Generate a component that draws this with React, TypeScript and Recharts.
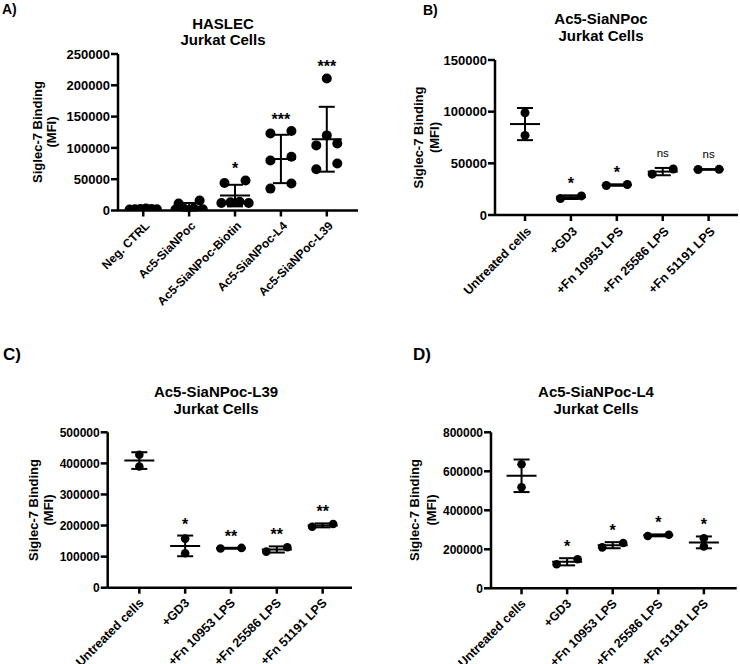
import React from "react";
import { ScatterChart, Scatter, XAxis, YAxis, ErrorBar } from "recharts";

const FONT = "'Liberation Sans', Arial, Helvetica, sans-serif";

// Panel A: HASLEC on Jurkat cells (six replicates per group)
const haslecGroups = ["Neg. CTRL", "Ac5-SiaNPoc", "Ac5-SiaNPoc-Biotin", "Ac5-SiaNPoc-L4", "Ac5-SiaNPoc-L39"];
const haslecValues = [
  [2500, 2000, 3000, 1500, 2000, 2500],
  [16000, 11000, 3000, 2500, 2000, 1500],
  [48000, 44000, 14000, 13000, 12000, 12000],
  [127000, 123000, 86000, 80000, 43000, 35000],
  [211000, 120000, 107000, 104000, 75000, 66000],
];
const haslecSig = ["", "", "*", "***", "***"];
const haslecTicks = [0, 50000, 100000, 150000, 200000, 250000];

// Panels B-D share the LPS treatment groups (duplicates)
const lpsGroups = ["Untreated cells", "+GD3", "+Fn 10953 LPS", "+Fn 25586 LPS", "+Fn 51191 LPS"];

const siaValues = [
  [99000, 77000],
  [18500, 16000],
  [29500, 28500],
  [44500, 39500],
  [44200, 44000],
];
const siaSig = ["", "*", "*", "ns", "ns"];
const siaTicks = [0, 50000, 100000, 150000];

const l39Values = [
  [428000, 390000],
  [158000, 111000],
  [128000, 126000],
  [130000, 116000],
  [205000, 196000],
];
const l39Sig = ["", "*", "**", "**", "**"];
const l39Ticks = [0, 100000, 200000, 300000, 400000, 500000];

const l4Values = [
  [636000, 518000],
  [149000, 123000],
  [232000, 210000],
  [275000, 268000],
  [257000, 214000],
];
const l4Sig = ["", "*", "*", "*", "*"];
const l4Ticks = [0, 200000, 400000, 600000, 800000];

const mean = (v: number[]) => v.reduce((a, b) => a + b, 0) / v.length;
const sd = (v: number[]) => {
  const m = mean(v);
  return Math.sqrt(v.reduce((a, b) => a + (b - m) * (b - m), 0) / (v.length - 1));
};

// spread points that sit at about the same height side by side
function swarm(values: number[], cat: number, tol: number, step: number) {
  const sorted = [...values].sort((a, b) => b - a);
  const rows: number[][] = [];
  for (const v of sorted) {
    const row = rows[rows.length - 1];
    if (row && row[0] - v <= tol) row.push(v);
    else rows.push([v]);
  }
  const pts: { x: number; y: number }[] = [];
  for (const row of rows) {
    const n = row.length;
    let slots: number[];
    if (n === 1) slots = [0];
    else if (n === 2) slots = [1, -1];
    else {
      const even = Array.from({ length: n }, (_, i) => -1.3 + (2.6 * i) / (n - 1));
      slots = even.sort((a, b) => Math.abs(a) - Math.abs(b) || b - a);
    }
    row.forEach((v, i) => pts.push({ x: cat + slots[i] * step, y: v }));
  }
  return pts;
}

type PanelProps = {
  left: number;
  top: number;
  width: number;
  height: number;
  plot: { x0: number; x1: number; y0: number; y1: number };
  domainX: [number, number];
  groups: string[];
  values: number[][];
  sig: string[];
  ticks: number[];
  r: number;
  tickFont: number;
  catFont: number;
  xh: number;
  labelShift: [number, number];
};

const CatTick = ({ x, y, payload, labels, fontSize, shift }: any) => {
  const ax = x + shift[0];
  const ay = y + shift[1];
  return (
    <text
      x={ax}
      y={ay}
      transform={`rotate(-45, ${ax}, ${ay})`}
      textAnchor="end"
      fontSize={fontSize}
      fontWeight="bold"
      fontFamily={FONT}
      fill="#000"
    >
      {labels[payload.value]}
    </text>
  );
};

function Panel(p: PanelProps) {
  const yMax = p.ticks[p.ticks.length - 1];
  const plotH = p.plot.y1 - p.plot.y0;
  const plotW = p.plot.x1 - p.plot.x0;
  const pxPerCat = plotW / (p.domainX[1] - p.domainX[0]);
  const tol = (7 / plotH) * yMax;
  const step = 10.5 / pxPerCat;

  const points = p.values.flatMap((v, i) => swarm(v, i, tol, step));
  const stats = p.values.map((v, i) => ({ x: i, y: mean(v), sd: sd(v) }));
  const marks = p.values
    .map((v, i) => ({ x: i, y: Math.max(Math.max(...v), stats[i].y + stats[i].sd), label: p.sig[i] }))
    .filter((d) => d.label);

  const yw = 60;
  const margin = {
    top: p.plot.y0 - p.top,
    left: p.plot.x0 - p.left - yw,
    right: p.left + p.width - p.plot.x1,
    bottom: p.top + p.height - p.plot.y1 - p.xh,
  };

  return (
    <div style={{ position: "absolute", left: p.left, top: p.top }}>
      <ScatterChart width={p.width} height={p.height} margin={margin}>
        <XAxis
          type="number"
          dataKey="x"
          domain={p.domainX}
          ticks={[0, 1, 2, 3, 4]}
          interval={0}
          allowDataOverflow
          height={p.xh}
          tickSize={6}
          axisLine={{ stroke: "#000", strokeWidth: 2.5 }}
          tickLine={{ stroke: "#000", strokeWidth: 2.5 }}
          tick={(t: any) => <CatTick {...t} labels={p.groups} fontSize={p.catFont} shift={p.labelShift} />}
        />
        <YAxis
          type="number"
          dataKey="y"
          domain={[0, yMax]}
          ticks={p.ticks}
          interval={0}
          allowDataOverflow
          width={yw}
          tickSize={7}
          tickMargin={1}
          axisLine={{ stroke: "#000", strokeWidth: 2.5 }}
          tickLine={{ stroke: "#000", strokeWidth: 2.5 }}
          tick={{ fill: "#000", fontSize: p.tickFont, fontWeight: "bold", fontFamily: FONT }}
        />
        <Scatter
          data={points}
          isAnimationActive={false}
          shape={(s: any) => <circle cx={s.cx} cy={s.cy} r={p.r} fill="#000" />}
        />
        <Scatter
          data={stats}
          isAnimationActive={false}
          shape={(s: any) => (
            <line x1={s.cx - 15} x2={s.cx + 15} y1={s.cy} y2={s.cy} stroke="#000" strokeWidth={2} />
          )}
        >
          <ErrorBar dataKey="sd" direction="y" width={8} stroke="#000" strokeWidth={2} />
        </Scatter>
        <Scatter
          data={marks}
          isAnimationActive={false}
          shape={(s: any) =>
            s.payload.label === "ns" ? (
              <text x={s.cx} y={s.cy - 11} textAnchor="middle" fontSize={11.5} fontFamily={FONT} fill="#000">
                {s.payload.label}
              </text>
            ) : (
              <text
                x={s.cx}
                y={s.cy - 6}
                textAnchor="middle"
                fontSize={16}
                fontWeight="bold"
                fontFamily={FONT}
                fill="#000"
              >
                {s.payload.label}
              </text>
            )
          }
        />
      </ScatterChart>
    </div>
  );
}

const titleStyle = { fontSize: 15, fontWeight: "bold", fontFamily: FONT, fill: "#000" } as const;
const axisTitleStyle = { fontSize: 13, fontWeight: "bold", fontFamily: FONT, fill: "#000" } as const;

function YTitle({ x1, x2, cy }: { x1: number; x2: number; cy: number }) {
  return (
    <g>
      <text x={x1} y={cy} transform={`rotate(-90, ${x1}, ${cy})`} textAnchor="middle" dominantBaseline="central" {...axisTitleStyle}>
        Siglec-7 Binding
      </text>
      <text x={x2} y={cy} transform={`rotate(-90, ${x2}, ${cy})`} textAnchor="middle" dominantBaseline="central" {...axisTitleStyle}>
        (MFI)
      </text>
    </g>
  );
}

export default function App() {
  return (
    <div style={{ position: "absolute", left: 0, top: 0, width: 740, height: 664, overflow: "hidden", background: "#fff" }}>
      <Panel
        left={0}
        top={0}
        width={370}
        height={330}
        plot={{ x0: 118, x1: 358, y0: 54, y1: 210.5 }}
        domainX={[-0.55, 4.68]}
        groups={haslecGroups}
        values={haslecValues}
        sig={haslecSig}
        ticks={haslecTicks}
        r={5}
        tickFont={13}
        catFont={12}
        xh={80}
        labelShift={[7, 8]}
      />
      <Panel
        left={370}
        top={0}
        width={370}
        height={330}
        plot={{ x0: 495, x1: 738, y0: 60, y1: 215 }}
        domainX={[-0.654, 4.64]}
        groups={lpsGroups}
        values={siaValues}
        sig={siaSig}
        ticks={siaTicks}
        r={4.5}
        tickFont={13}
        catFont={12.5}
        xh={80}
        labelShift={[7, 9]}
      />
      <Panel
        left={0}
        top={332}
        width={370}
        height={332}
        plot={{ x0: 107.7, x1: 352, y0: 432.3, y1: 587.7 }}
        domainX={[-0.69, 4.64]}
        groups={lpsGroups}
        values={l39Values}
        sig={l39Sig}
        ticks={l39Ticks}
        r={4.3}
        tickFont={12}
        catFont={12.5}
        xh={70}
        labelShift={[5, 8]}
      />
      <Panel
        left={370}
        top={332}
        width={370}
        height={332}
        plot={{ x0: 491, x1: 736.7, y0: 432.3, y1: 588.3 }}
        domainX={[-0.67, 4.72]}
        groups={lpsGroups}
        values={l4Values}
        sig={l4Sig}
        ticks={l4Ticks}
        r={4.3}
        tickFont={12}
        catFont={12.5}
        xh={70}
        labelShift={[5, 8]}
      />
      <svg width={740} height={664} style={{ position: "absolute", left: 0, top: 0, pointerEvents: "none" }}>
        <text x={2} y={13.5} fontSize={14} fontWeight="bold" fontFamily={FONT}>A)</text>
        <text x={423} y={15} fontSize={14} fontWeight="bold" fontFamily={FONT}>B)</text>
        <text x={3} y={359.5} fontSize={17} fontWeight="bold" fontFamily={FONT}>C)</text>
        <text x={413} y={359.5} fontSize={17} fontWeight="bold" fontFamily={FONT}>D)</text>

        <text x={223} y={29} textAnchor="middle" {...titleStyle}>HASLEC</text>
        <text x={223} y={45} textAnchor="middle" {...titleStyle}>Jurkat Cells</text>
        <text x={601} y={24} textAnchor="middle" {...titleStyle}>Ac5-SiaNPoc</text>
        <text x={601} y={40.5} textAnchor="middle" {...titleStyle}>Jurkat Cells</text>
        <text x={216} y={396.5} textAnchor="middle" {...titleStyle}>Ac5-SiaNPoc-L39</text>
        <text x={216} y={414} textAnchor="middle" {...titleStyle}>Jurkat Cells</text>
        <text x={596} y={396.5} textAnchor="middle" {...titleStyle}>Ac5-SiaNPoc-L4</text>
        <text x={596} y={414} textAnchor="middle" {...titleStyle}>Jurkat Cells</text>

        <YTitle x1={37.7} x2={51.7} cy={132} />
        <YTitle x1={418.7} x2={434.3} cy={137.5} />
        <YTitle x1={33.7} x2={48} cy={510} />
        <YTitle x1={414.7} x2={431} cy={510} />
      </svg>
    </div>
  );
}
